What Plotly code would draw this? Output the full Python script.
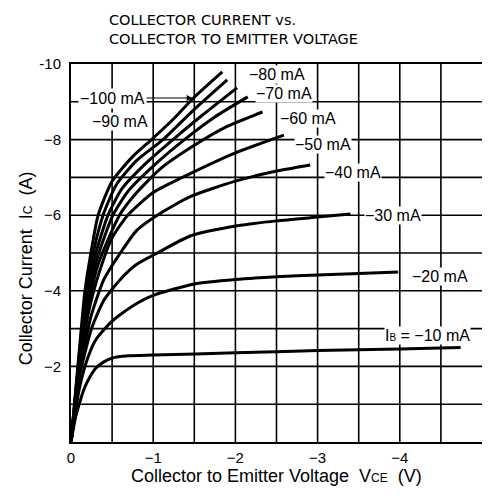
import plotly.graph_objects as go

# Collector-emitter voltage (V) and collector current (A), one curve per base current
ib_labels = ["−10", "−20", "−30", "−40", "−50", "−60", "−70", "−80", "−90", "−100"]

vce_10 = [0, -0.05, -0.1, -0.15, -0.2, -0.3, -0.4, -0.5, -0.7, -1.0, -2.0, -3.0, -4.0, -4.74]
ic_10 = [0, -0.6, -1.0, -1.35, -1.6, -1.95, -2.12, -2.22, -2.28, -2.3, -2.36, -2.42, -2.46, -2.5]

vce_20 = [0, -0.05, -0.1, -0.2, -0.3, -0.5, -0.75, -1.0, -1.5, -2.0, -2.5, -3.0, -3.5, -3.98]
ic_20 = [0, -0.75, -1.4, -2.2, -2.7, -3.2, -3.6, -3.88, -4.18, -4.3, -4.37, -4.42, -4.46, -4.5]

vce_30 = [0, -0.05, -0.1, -0.25, -0.4, -0.6, -0.8, -1.05, -1.45, -2.02, -2.5, -3.0, -3.4]
ic_30 = [0, -0.85, -1.7, -3.0, -3.75, -4.3, -4.7, -5.0, -5.45, -5.72, -5.85, -5.95, -6.03]

vce_40 = [0, -0.05, -0.1, -0.24, -0.4, -0.6, -0.8, -1.05, -1.45, -2.0, -2.46, -2.91]
ic_40 = [0, -0.9, -1.8, -3.3, -4.3, -5.0, -5.6, -6.0, -6.49, -6.9, -7.15, -7.33]

vce_50 = [0, -0.05, -0.1, -0.22, -0.36, -0.5, -0.69, -1.0, -1.45, -2.0, -2.59]
ic_50 = [0, -0.95, -1.9, -3.5, -4.6, -5.4, -6.0, -6.6, -7.1, -7.65, -8.12]

vce_60 = [0, -0.05, -0.1, -0.21, -0.33, -0.59, -0.8, -1.1, -1.5, -1.9, -2.33]
ic_60 = [0, -1.0, -2.0, -3.6, -4.7, -6.0, -6.6, -7.25, -7.85, -8.35, -8.73]

vce_70 = [0, -0.05, -0.1, -0.2, -0.31, -0.51, -0.7, -1.0, -1.38, -1.75, -2.15]
ic_70 = [0, -1.05, -2.1, -3.7, -4.8, -6.0, -6.65, -7.3, -8.0, -8.6, -9.13]

vce_80 = [0, -0.05, -0.1, -0.19, -0.29, -0.45, -0.62, -0.9, -1.24, -1.6, -2.02]
ic_80 = [0, -1.1, -2.2, -3.8, -4.9, -6.0, -6.7, -7.35, -8.0, -8.65, -9.37]

vce_90 = [0, -0.05, -0.1, -0.18, -0.27, -0.39, -0.55, -0.8, -1.12, -1.5, -1.9]
ic_90 = [0, -1.15, -2.3, -3.9, -5.0, -6.0, -6.8, -7.45, -8.0, -8.8, -9.58]

vce_100 = [0, -0.05, -0.1, -0.17, -0.25, -0.33, -0.5, -0.75, -0.98, -1.25, -1.49, -1.84]
ic_100 = [0, -1.2, -2.4, -4.0, -5.1, -6.0, -6.9, -7.55, -8.0, -8.55, -9.1, -9.79]

curves = [
    (vce_10, ic_10), (vce_20, ic_20), (vce_30, ic_30), (vce_40, ic_40), (vce_50, ic_50),
    (vce_60, ic_60), (vce_70, ic_70), (vce_80, ic_80), (vce_90, ic_90), (vce_100, ic_100),
]

# where each IB label sits (V, A)
label_x = [-4.34, -4.49, -3.92, -3.43, -3.07, -2.88, -2.59, -2.51, -0.60, -0.51]
label_y = [-2.83, -4.37, -6.0, -7.14, -7.86, -8.57, -9.23, -9.71, -8.47, -9.15]

x_ticks = [0, -1, -2, -3, -4, -5]
x_ticktext = ["0", "−1", "−2", "−3", "−4", "−5"]
y_ticks = [-10, -8, -6, -4, -2]
y_ticktext = ["-10", "−8", "−6", "−4", "−2"]

# grid every 0.5 V and every 1 A
grid_v = [-0.5, -1.0, -1.5, -2.0, -2.5, -3.0, -3.5, -4.0, -4.5]
grid_i = [-1, -2, -3, -4, -5, -6, -7, -8, -9]

FONT = "Liberation Sans, Arial, sans-serif"
TITLE_FONT = "DejaVu Sans, sans-serif"

fig = go.Figure()

for v in grid_v:
    fig.add_shape(type="line", xref="x", yref="paper", x0=v, x1=v, y0=0, y1=1,
                  line=dict(color="black", width=1.6), layer="below")
for i in grid_i:
    fig.add_shape(type="line", xref="paper", yref="y", x0=0, x1=1, y0=i, y1=i,
                  line=dict(color="black", width=1.6), layer="below")

for vce, ic in curves:
    fig.add_trace(go.Scatter(x=vce, y=ic, mode="lines",
                             line=dict(color="black", width=3, shape="spline", smoothing=0.6),
                             hoverinfo="skip", showlegend=False))

for i, name in enumerate(ib_labels):
    if name == "−10":
        txt = "I<span style='font-size:10px'>B</span> = −10 mA"
    else:
        txt = f"{name} mA"
    if name == "−100":
        # arrow from the label to the -100 mA curve
        fig.add_annotation(x=-1.48, y=-9.1, text=txt, showarrow=True,
                           ax=-80, ay=0, arrowhead=2, arrowsize=1, arrowwidth=1.2,
                           arrowcolor="black", standoff=0, bgcolor="white",
                           font=dict(family=FONT, size=16, color="black"))
    else:
        fig.add_annotation(x=label_x[i], y=label_y[i], text=txt, showarrow=False,
                           bgcolor="white", borderpad=0,
                           font=dict(family=FONT, size=16, color="black"))

# title and axis titles
fig.add_annotation(xref="paper", yref="paper", x=0.09, y=1.092, xanchor="left", yanchor="middle",
                   align="left", text="COLLECTOR CURRENT vs.<br>COLLECTOR TO EMITTER VOLTAGE",
                   showarrow=False, borderpad=0,
                   font=dict(family=TITLE_FONT, size=14.5, color="black"))
fig.add_annotation(xref="paper", yref="paper", x=0.5, y=-0.089, xanchor="center", yanchor="middle",
                   text="Collector to Emitter Voltage  V<span style='font-size:12px'>CE</span>  (V)",
                   showarrow=False, font=dict(family=FONT, size=18, color="black"))
fig.add_annotation(xref="paper", yref="paper", x=-0.109, y=0.46, xanchor="center", yanchor="middle",
                   text="Collector Current  I<span style='font-size:12px'>C</span>  (A)", textangle=-90,
                   showarrow=False, font=dict(family=FONT, size=18, color="black"))

# the page body adds an 8px margin, so the figure is sized to fit inside the window
fig.update_layout(
    width=482, height=496,
    margin=dict(l=63, r=8, t=56, b=62),
    paper_bgcolor="white", plot_bgcolor="white",
    font=dict(family=FONT, size=15, color="black"),
    showlegend=False,
)
fig.update_xaxes(range=[0, -5], tickvals=x_ticks, ticktext=x_ticktext, automargin=False,
                 showgrid=False, showline=True, linecolor="black", linewidth=2, mirror=True,
                 zeroline=False, ticks="outside", ticklen=1, tickcolor="white")
fig.update_yaxes(range=[0, -10], tickvals=y_ticks, ticktext=y_ticktext, automargin=False,
                 showgrid=False, showline=True, linecolor="black", linewidth=2, mirror=True,
                 zeroline=False, ticks="outside", ticklen=5, tickcolor="white")

fig.write_html("out.html")
